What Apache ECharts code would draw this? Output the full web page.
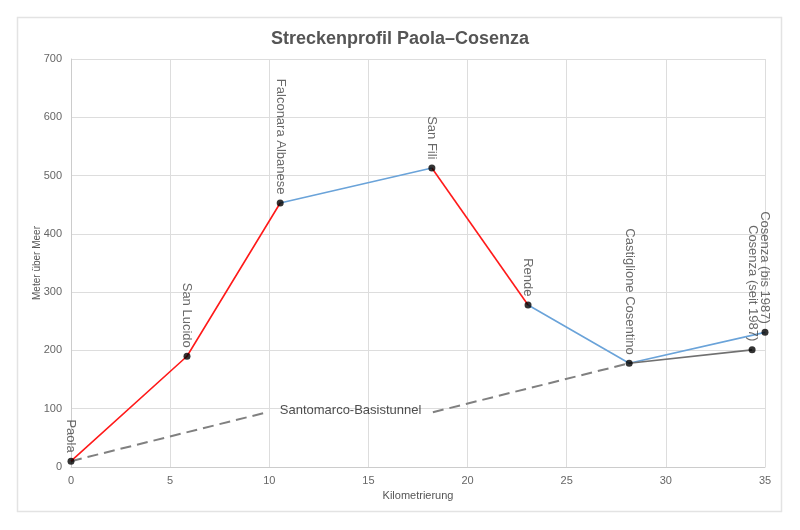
<!DOCTYPE html>
<html>
<head>
<meta charset="utf-8">
<script src="https://cdn.jsdelivr.net/npm/echarts@6/dist/echarts.min.js"></script>
<style>
  html, body { margin: 0; padding: 0; background: #fff; }
  #chart { width: 800px; height: 530px; }
</style>
</head>
<body>
<div id="chart"></div>
<script>
// Stationen mit Kilometrierung und Höhe
var stations = ['Paola', 'San Lucido', 'Falconara Albanese', 'San Fili', 'Rende',
                'Castiglione Cosentino', 'Cosenza (bis 1987)', 'Cosenza (seit 1987)'];
var km = [0, 5.85, 10.55, 18.2, 23.05, 28.15, 35.0, 34.35];
var elev = [10, 190, 453, 513, 278, 178, 231, 201];

// Abschnitte (Indizes in stations)
var redSegments = [[0, 1, 2], [3, 4]];
var blueSegments = [[2, 3], [4, 5, 6]];
var graySegment = [5, 7];

// Tunnel: Paola -> Lücke für Beschriftung -> Castiglione Cosentino
var tunnelKm = [0, 9.9, null, 18.25, 28.15];
var tunnelElev = [10, 94, null, 94, 178];
var tunnelLabel = 'Santomarco-Basistunnel';
var tunnelLabelPos = [14.1, 97];

var xTicks = [0, 5, 10, 15, 20, 25, 30, 35];
var yTicks = [0, 100, 200, 300, 400, 500, 600, 700];

var font = 'Liberation Sans, Arial, sans-serif';

function pts(idx) {
  return idx.map(function (i) { return [km[i], elev[i]]; });
}

function lineSeries(data, color, dashed) {
  return {
    type: 'line',
    data: data,
    symbol: 'none',
    silent: true,
    connectNulls: false,
    z: dashed ? 1 : 2,
    lineStyle: {
      color: color,
      width: dashed ? 2 : 1.6,
      type: dashed ? [11, 6] : 'solid'
    }
  };
}

var series = [];
series.push(lineSeries(tunnelKm.map(function (k, i) {
  return k === null ? '-' : [k, tunnelElev[i]];
}), '#808080', true));
redSegments.forEach(function (s) { series.push(lineSeries(pts(s), '#ff1a1a')); });
blueSegments.forEach(function (s) { series.push(lineSeries(pts(s), '#6aa3d9')); });
series.push(lineSeries(pts(graySegment), '#707070'));

series.push({
  type: 'scatter',
  data: stations.map(function (n, i) { return { name: n, value: [km[i], elev[i]] }; }),
  symbolSize: 7,
  z: 5,
  itemStyle: { color: '#000' },
  label: {
    show: true,
    position: 'top',
    distance: 5,
    rotate: -90,
    align: 'right',
    verticalAlign: 'middle',
    formatter: '{b}',
    color: '#444',
    fontSize: 13,
    fontFamily: font
  }
});

series.push({
  type: 'scatter',
  data: [{ name: tunnelLabel, value: tunnelLabelPos }],
  symbolSize: 0,
  z: 4,
  label: {
    show: true,
    position: 'inside',
    formatter: '{b}',
    color: '#222',
    fontSize: 13,
    fontFamily: font
  }
});

var chart = echarts.init(document.getElementById('chart'));
chart.setOption({
  animation: false,
  title: {
    text: 'Streckenprofil Paola–Cosenza',
    left: 'center',
    top: 25,
    textStyle: { color: '#555', fontSize: 18, fontWeight: 'bold', fontFamily: font }
  },
  graphic: [{
    type: 'rect',
    shape: { x: 17.5, y: 17.5, width: 764, height: 494 },
    style: { fill: 'none', stroke: '#e3e3e3', lineWidth: 1.5 },
    silent: true
  }],
  grid: { left: 71, right: 35, top: 59, bottom: 63 },
  xAxis: {
    type: 'value',
    min: xTicks[0],
    max: xTicks[xTicks.length - 1],
    interval: 5,
    name: 'Kilometrierung',
    nameLocation: 'middle',
    nameGap: 22,
    nameTextStyle: { color: '#555', fontSize: 11, fontFamily: font },
    axisLine: { lineStyle: { color: '#ccc' } },
    axisTick: { show: false },
    axisLabel: { color: '#666', fontSize: 11, margin: 8, fontFamily: font },
    splitLine: { show: true, lineStyle: { color: '#ddd' } }
  },
  yAxis: {
    type: 'value',
    min: yTicks[0],
    max: yTicks[yTicks.length - 1],
    interval: 100,
    name: 'Meter über Meer',
    nameLocation: 'middle',
    nameGap: 29,
    nameMoveOverlap: false,
    nameTextStyle: { color: '#555', fontSize: 10, fontFamily: font },
    axisLine: { show: true, lineStyle: { color: '#ccc' } },
    axisTick: { show: false },
    axisLabel: { color: '#666', fontSize: 11, margin: 9, fontFamily: font },
    splitLine: { show: true, lineStyle: { color: '#ddd' } }
  },
  series: series
});
</script>
</body>
</html>
